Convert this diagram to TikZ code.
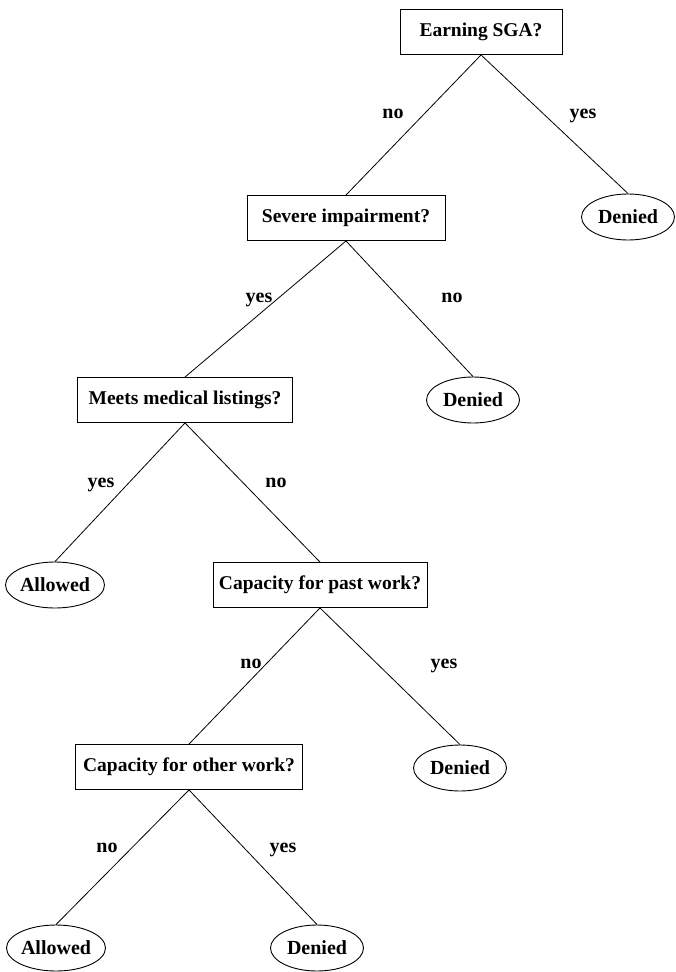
\documentclass[tikz,border=0pt]{standalone}
\usepackage{fontspec}
\setmainfont{Liberation Serif}
\usetikzlibrary{shapes.geometric}

\tikzset{
    qbox/.style={draw, rectangle, line width=0.9pt, inner xsep=6pt, minimum height=45pt,
        font=\fontsize{19.5}{24}\selectfont\bfseries},
    leaf/.style={draw, ellipse, line width=0.9pt, inner sep=0pt, minimum width=93pt, minimum height=46pt,
        font=\fontsize{20}{24}\selectfont\bfseries},
    lbl/.style={anchor=base, inner sep=0pt, font=\fontsize{20}{24}\selectfont\bfseries},
    branch/.style={line width=0.8pt}
}

\begin{document}
\begin{tikzpicture}[x=1pt, y=-1pt]

    \useasboundingbox (0,0) rectangle (675,972);

    % questions
    \node[qbox, minimum width=162pt] (sga) at (481,32) {Earning SGA?};
    \node[qbox, minimum width=198pt] (severe) at (346,218) {Severe impairment?};
    \node[qbox, minimum width=215pt] (listings) at (185,400) {Meets medical listings?};
    \node[qbox, minimum width=213pt] (pastwork) at (320,585) {Capacity for past work?};
    \node[qbox, minimum width=227pt] (otherwork) at (189,767) {Capacity for other work?};

    % outcomes
    \node[leaf] (denied1) at (628,217) {Denied};
    \node[leaf] (denied2) at (473,400) {Denied};
    \node[leaf] (allowed1) at (55,585) {Allowed};
    \node[leaf] (denied3) at (460,768) {Denied};
    \node[leaf] (allowed2) at (56,948) {Allowed};
    \node[leaf] (denied4) at (317,948) {Denied};

    % branches
    \draw[branch] (sga.south) -- (severe.north);
    \draw[branch] (sga.south) -- (denied1.north);
    \draw[branch] (severe.south) -- (listings.north);
    \draw[branch] (severe.south) -- (denied2.north);
    \draw[branch] (listings.south) -- (allowed1.north);
    \draw[branch] (listings.south) -- (pastwork.north);
    \draw[branch] (pastwork.south) -- (otherwork.north);
    \draw[branch] (pastwork.south) -- (denied3.north);
    \draw[branch] (otherwork.south) -- (allowed2.north);
    \draw[branch] (otherwork.south) -- (denied4.north);

    % answers
    \node[lbl] (sgano) at (393,118) {no};
    \node[lbl] (sgayes) at (583,118) {yes};
    \node[lbl] (sevyes) at (259,302) {yes};
    \node[lbl] (sevno) at (452,302) {no};
    \node[lbl] (lstyes) at (101,487) {yes};
    \node[lbl] (lstno) at (276,487) {no};
    \node[lbl] (pastno) at (251,668) {no};
    \node[lbl] (pastyes) at (444,668) {yes};
    \node[lbl] (othno) at (107,852) {no};
    \node[lbl] (othyes) at (283,852) {yes};

\end{tikzpicture}
\end{document}
